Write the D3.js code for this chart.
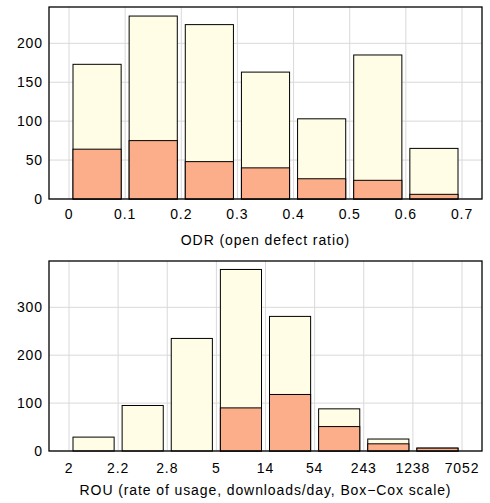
<!DOCTYPE html>
<html>
<head>
<meta charset="utf-8">
<script src="https://cdn.jsdelivr.net/npm/d3@7"></script>
<style>
  body { margin: 0; background: #fff; }
  text { font-family: "Liberation Sans", Arial, Helvetica, sans-serif; letter-spacing: 0.9px; }
</style>
</head>
<body>
<div id="chart"></div>
<script>
// ODR histogram (bins of 0.1)
const odrBins = [0, 0.1, 0.2, 0.3, 0.4, 0.5, 0.6];
const odrTotal = [173, 235, 224, 163, 103, 185, 65];
const odrSub = [64, 75, 48, 40, 26, 24, 6];
const odrTicks = [0, 0.1, 0.2, 0.3, 0.4, 0.5, 0.6, 0.7];

// ROU histogram (Box-Cox scale, equal-width bins)
const rouLabels = ["2", "2.2", "2.8", "5", "14", "54", "243", "1238", "7052"];
const rouTotal = [29, 95, 235, 379, 281, 88, 25, 6];
const rouSub = [0, 0, 0, 90, 118, 51, 15, 6];

const width = 490, height = 503;
const yellow = "#fffde6", salmon = "#fcae8a";

const svg = d3.select("#chart").append("svg")
    .attr("width", width)
    .attr("height", height);

// draw one histogram panel
function panel(opts) {
    const g = svg.append("g");
    const x = d3.scaleLinear().domain(opts.xDomain).range([69, 462]);
    const y = d3.scaleLinear().domain(opts.yDomain).range([opts.bottom, opts.bottom - opts.yPx]);
    const left = 49, right = 482, top = opts.top, bottom = opts.bottom;

    // grid lines
    g.selectAll(".vg").data(opts.xTicks).enter().append("line")
        .attr("x1", d => x(d)).attr("x2", d => x(d))
        .attr("y1", top).attr("y2", bottom)
        .attr("stroke", "#d9d9d9").attr("stroke-width", 1);
    g.selectAll(".hg").data(opts.yTicks).enter().append("line")
        .attr("x1", left).attr("x2", right)
        .attr("y1", d => y(d)).attr("y2", d => y(d))
        .attr("stroke", "#d9d9d9").attr("stroke-width", 1);

    const bw = x(opts.step) - x(0);
    // total bars
    g.selectAll(".tot").data(opts.total).enter().append("rect")
        .attr("x", (d, i) => x(opts.bins[i]) + 4)
        .attr("width", bw - 8)
        .attr("y", d => y(d))
        .attr("height", d => y(0) - y(d))
        .attr("fill", yellow).attr("stroke", "#000").attr("stroke-width", 1);
    // subset bars (skip empty ones)
    const subData = opts.sub.map((v, i) => ({ v, i })).filter(d => d.v > 0);
    g.selectAll(".sub").data(subData).enter().append("rect")
        .attr("x", d => x(opts.bins[d.i]) + 4)
        .attr("width", bw - 8)
        .attr("y", d => y(d.v))
        .attr("height", d => y(0) - y(d.v))
        .attr("fill", salmon).attr("stroke", "#000").attr("stroke-width", 1);

    // frame
    g.append("rect")
        .attr("x", left).attr("y", top)
        .attr("width", right - left).attr("height", bottom - top)
        .attr("fill", "none").attr("stroke", "#000").attr("stroke-width", 1.3);

    // tick labels
    g.selectAll(".xl").data(opts.xTicks).enter().append("text")
        .attr("x", d => x(d)).attr("y", bottom + opts.tickDy)
        .attr("text-anchor", "middle").attr("font-size", 14)
        .text((d, i) => opts.xFmt(d, i));
    g.selectAll(".yl").data(opts.yTicks).enter().append("text")
        .attr("x", 43).attr("y", d => y(d) + 5)
        .attr("text-anchor", "end").attr("font-size", 14)
        .text(d => d);

    g.append("text")
        .attr("x", (left + right) / 2).attr("y", bottom + opts.titleDy)
        .attr("text-anchor", "middle").attr("font-size", 14)
        .text(opts.title);
}

panel({
    top: 7, bottom: 199, yPx: 155.7,
    xDomain: [0, 0.7], yDomain: [0, 200],
    bins: odrBins, step: 0.1, total: odrTotal, sub: odrSub,
    xTicks: odrTicks, yTicks: [0, 50, 100, 150, 200],
    xFmt: d => d3.format("~g")(d),
    tickDy: 20, titleDy: 46,
    title: "ODR (open defect ratio)"
});

panel({
    top: 261, bottom: 451, yPx: 143.7,
    xDomain: [0, 8], yDomain: [0, 300],
    bins: d3.range(8), step: 1, total: rouTotal, sub: rouSub,
    xTicks: d3.range(9), yTicks: [0, 100, 200, 300],
    xFmt: (d, i) => rouLabels[i],
    tickDy: 22, titleDy: 44,
    title: "ROU (rate of usage, downloads/day, Box\u2212Cox scale)"
});
</script>
</body>
</html>
